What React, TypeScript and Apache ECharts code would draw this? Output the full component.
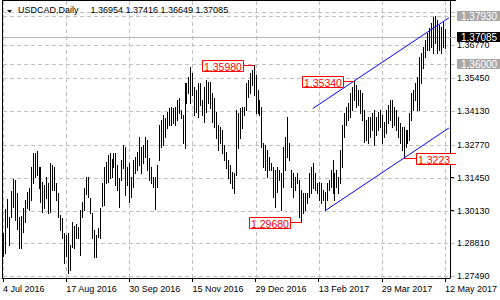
import React, { useEffect, useRef } from "react";
import * as echarts from "echarts";

// ---- chart data -------------------------------------------------------
const symbol = "USDCAD";
const timeframe = "Daily";
const lastBarOHLC = [1.36954, 1.37416, 1.36649, 1.37085];
const startDate = "2016-07-04";
const barCount = 225;
const emptyBars = 2;

const xTickLabels = [
  "4 Jul 2016", "17 Aug 2016", "30 Sep 2016", "15 Nov 2016",
  "29 Dec 2016", "13 Feb 2017", "29 Mar 2017", "12 May 2017",
];
const yTickValues = [1.2749, 1.2881, 1.3013, 1.3145, 1.3277, 1.3413, 1.3545, 1.3677];
const hiddenGridValues = [1.3809];
const yMin = 1.27421;
const yMax = 1.38551;

const highs = [
  1.2923, 1.3019, 1.3060, 1.2987, 1.3092, 1.3140, 1.3136, 1.3084, 1.2987, 1.2991,
  1.3023, 1.3056, 1.3088, 1.3104, 1.3188, 1.3244, 1.3244, 1.3252, 1.3188, 1.3188,
  1.3128, 1.3116, 1.3148, 1.3124, 1.3204, 1.3196, 1.3188, 1.3124, 1.3084, 1.2995,
  1.2983, 1.2923, 1.2915, 1.2923, 1.2875, 1.2967, 1.2951, 1.2959, 1.2947, 1.3015,
  1.3048, 1.3104, 1.3148, 1.3148, 1.3064, 1.3003, 1.2935, 1.2915, 1.2943, 1.3023,
  1.3124, 1.3188, 1.3208, 1.3236, 1.3244, 1.3220, 1.3244, 1.3244, 1.3196, 1.3144,
  1.3216, 1.3277, 1.3269, 1.3188, 1.3204, 1.3148, 1.3216, 1.3228, 1.3248, 1.3309,
  1.3269, 1.3277, 1.3309, 1.3297, 1.3224, 1.3188, 1.3148, 1.3148, 1.3196, 1.3357,
  1.3377, 1.3397, 1.3385, 1.3409, 1.3425, 1.3429, 1.3425, 1.3429, 1.3457, 1.3465,
  1.3417, 1.3397, 1.3526, 1.3526, 1.3550, 1.3590, 1.3566, 1.3510, 1.3497, 1.3526,
  1.3526, 1.3457, 1.3510, 1.3538, 1.3530, 1.3530, 1.3485, 1.3465, 1.3409, 1.3357,
  1.3349, 1.3337, 1.3277, 1.3248, 1.3216, 1.3196, 1.3168, 1.3164, 1.3417, 1.3405,
  1.3425, 1.3429, 1.3429, 1.3526, 1.3538, 1.3566, 1.3578, 1.3598, 1.3558, 1.3497,
  1.3457, 1.3429, 1.3285, 1.3277, 1.3256, 1.3228, 1.3204, 1.3188, 1.3176, 1.3188,
  1.3176, 1.3164, 1.3269, 1.3309, 1.3389, 1.3285, 1.3176, 1.3164, 1.3148, 1.3164,
  1.3136, 1.3096, 1.3084, 1.3084, 1.3084, 1.3164, 1.3188, 1.3204, 1.3164, 1.3124,
  1.3128, 1.3124, 1.3096, 1.3088, 1.3124, 1.3136, 1.3176, 1.3216, 1.3164, 1.3176,
  1.3148, 1.3256, 1.3357, 1.3405, 1.3429, 1.3445, 1.3485, 1.3510, 1.3534, 1.3518,
  1.3497, 1.3497, 1.3485, 1.3417, 1.3377, 1.3389, 1.3389, 1.3405, 1.3417, 1.3389,
  1.3409, 1.3417, 1.3397, 1.3369, 1.3417, 1.3437, 1.3457, 1.3457, 1.3429, 1.3417,
  1.3389, 1.3365, 1.3349, 1.3349, 1.3337, 1.3337, 1.3405, 1.3485, 1.3497, 1.3526,
  1.3550, 1.3630, 1.3646, 1.3670, 1.3698, 1.3727, 1.3747, 1.3767, 1.3791, 1.3793,
  1.3779, 1.3759, 1.3751, 1.3771, 1.37416,
];

const lows = [
  1.2831, 1.2843, 1.2947, 1.2875, 1.2987, 1.3027, 1.2975, 1.2939, 1.2863, 1.2863,
  1.2927, 1.2967, 1.3023, 1.3015, 1.3056, 1.3124, 1.3148, 1.3156, 1.3104, 1.3048,
  1.3007, 1.3023, 1.3064, 1.3003, 1.3007, 1.3096, 1.3096, 1.3056, 1.2987, 1.2935,
  1.2903, 1.2802, 1.2831, 1.2762, 1.2774, 1.2867, 1.2863, 1.2903, 1.2903, 1.2835,
  1.2987, 1.3015, 1.3080, 1.3068, 1.3003, 1.2903, 1.2827, 1.2827, 1.2907, 1.2903,
  1.3031, 1.3035, 1.3124, 1.3128, 1.3144, 1.3148, 1.3188, 1.3116, 1.3096, 1.3027,
  1.3136, 1.3184, 1.3076, 1.3116, 1.3048, 1.3068, 1.3108, 1.3164, 1.3176, 1.3196,
  1.3164, 1.3204, 1.3228, 1.3176, 1.3136, 1.3124, 1.3108, 1.3019, 1.3108, 1.3216,
  1.3269, 1.3277, 1.3309, 1.3345, 1.3357, 1.3357, 1.3365, 1.3357, 1.3377, 1.3405,
  1.3385, 1.3285, 1.3265, 1.3445, 1.3485, 1.3445, 1.3477, 1.3397, 1.3409, 1.3389,
  1.3437, 1.3397, 1.3369, 1.3409, 1.3445, 1.3425, 1.3369, 1.3349, 1.3305, 1.3256,
  1.3285, 1.3244, 1.3216, 1.3184, 1.3144, 1.3124, 1.3104, 1.3084, 1.3156, 1.3265,
  1.3305, 1.3345, 1.3397, 1.3417, 1.3469, 1.3485, 1.3518, 1.3477, 1.3405, 1.3405,
  1.3397, 1.3269, 1.3188, 1.3176, 1.3148, 1.3176, 1.3176, 1.3068, 1.3027, 1.3088,
  1.3136, 1.3015, 1.3108, 1.3176, 1.3228, 1.3216, 1.3108, 1.3068, 1.3096, 1.3124,
  1.2987, 1.2968, 1.3003, 1.3015, 1.3044, 1.3068, 1.3084, 1.3104, 1.3096, 1.3084,
  1.3056, 1.3044, 1.3056, 1.3015, 1.3056, 1.3096, 1.3108, 1.3084, 1.3056, 1.3108,
  1.3084, 1.3124, 1.3188, 1.3309, 1.3357, 1.3377, 1.3389, 1.3417, 1.3457, 1.3429,
  1.3437, 1.3405, 1.3377, 1.3289, 1.3297, 1.3285, 1.3309, 1.3337, 1.3277, 1.3317,
  1.3337, 1.3349, 1.3285, 1.3309, 1.3325, 1.3365, 1.3377, 1.3349, 1.3357, 1.3337,
  1.3309, 1.3285, 1.3256, 1.3223, 1.3269, 1.3285, 1.3297, 1.3377, 1.3417, 1.3457,
  1.3417, 1.3417, 1.3526, 1.3586, 1.3630, 1.3658, 1.3658, 1.3670, 1.3646, 1.3686,
  1.3646, 1.3658, 1.3646, 1.3670, 1.36649,
];

const grayLevels = [1.3793, 1.36];
const closePrice = lastBarOHLC[3];

const peakLabels = [
  { index: 127, value: 1.3598, side: "left" },
  { index: 178, value: 1.3534, side: "left" },
  { index: 151, value: 1.2968, side: "left" },
  { index: 203, value: 1.3223, side: "right" },
];

const upperChannel = [[157, 1.3423], [178, 1.3534]];
const lowerChannel = [[163, 1.3011], [203, 1.3223]];

// ---- helpers -------------------------------------------------------------
const MONTHS = ["Jan", "Feb", "Mar", "Apr", "May", "Jun", "Jul", "Aug", "Sep", "Oct", "Nov", "Dec"];
function buildDates(start: string, n: number): string[] {
  const out: string[] = [];
  const d = new Date(start + "T00:00:00Z");
  while (out.length < n) {
    const wd = d.getUTCDay();
    if (wd !== 0 && wd !== 6) {
      out.push(`${d.getUTCDate()} ${MONTHS[d.getUTCMonth()]} ${d.getUTCFullYear()}`);
    }
    d.setUTCDate(d.getUTCDate() + 1);
  }
  return out;
}
const categories = buildDates(startDate, barCount + emptyBars);
const tickSet = new Set(xTickLabels);
const lastIndex = categories.length - 1;

function extendRay(pts: number[][]): number[][] {
  const [[i0, v0], [i1, v1]] = pts;
  const slope = (v1 - v0) / (i1 - i0);
  return [[i0, v0], [lastIndex, v0 + slope * (lastIndex - i0)]];
}

const FONT = "'Liberation Sans', Arial, sans-serif";

export default function App() {
  const ref = useRef<HTMLDivElement>(null);

  useEffect(() => {
    if (!ref.current) return;
    const chart = echarts.init(ref.current, undefined, { renderer: "svg" });

    const barData = highs.map((h, i) => [i, h, lows[i]]);

    const renderItem = (params: any, api: any) => {
      const i = api.value(0);
      const top = api.coord([i, api.value(1)]);
      const bot = api.coord([i, api.value(2)]);
      const x = Math.round(top[0]) + 0.5;
      return {
        type: "line",
        shape: { x1: x, y1: Math.round(top[1]), x2: x, y2: Math.round(bot[1]) + 1 },
        style: { stroke: "#000000", lineWidth: 1 },
        silent: true,
      };
    };

    const option: any = {
      animation: false,
      backgroundColor: "#ffffff",
      grid: { left: 2, top: 1, width: 454, height: 277, containLabel: false },
      xAxis: {
        type: "category",
        data: categories,
        boundaryGap: true,
        axisLine: { show: true, lineStyle: { color: "#000000", width: 1 } },
        axisTick: {
          show: true,
          alignWithLabel: true,
          interval: (i: number, v: string) => tickSet.has(v),
          length: 4,
          lineStyle: { color: "#000000" },
        },
        axisLabel: {
          show: true,
          interval: (i: number, v: string) => tickSet.has(v),
          align: "left",
          margin: 6,
          fontSize: 9,
          color: "#000000",
          fontFamily: FONT,
        },
        splitLine: { show: false },
      },
      yAxis: {
        type: "value",
        position: "right",
        min: yMin,
        max: yMax,
        axisLine: { show: true, lineStyle: { color: "#000000", width: 1 } },
        axisTick: { show: true, customValues: yTickValues, length: 4, lineStyle: { color: "#000000" } },
        axisLabel: {
          customValues: yTickValues,
          formatter: (v: number) => v.toFixed(5),
          margin: 7,
          fontSize: 9,
          color: "#000000",
          fontFamily: FONT,
        },
        splitLine: { show: false },
      },
      series: [
        {
          type: "custom",
          name: symbol,
          renderItem,
          data: barData,
          encode: { x: 0, y: [1, 2] },
          z: 2,
          silent: true,
        },
        {
          type: "line",
          data: extendRay(upperChannel),
          symbol: "none",
          lineStyle: { color: "#0000ff", width: 1 },
          z: 3,
          silent: true,
        },
        {
          type: "line",
          data: extendRay(lowerChannel),
          symbol: "none",
          lineStyle: { color: "#0000ff", width: 1 },
          z: 3,
          silent: true,
        },
      ],
    };
    chart.setOption(option);

    const px = (i: number, v: number) => chart.convertToPixel({ gridIndex: 0 }, [i, v]) as number[];
    const right = 456;
    const topY = px(0, yMax)[1];
    const bottomY = px(0, yMin)[1];
    const crisp = (n: number) => Math.round(n) + 0.5;

    const els: any[] = [];
    const dash = [4, 3];

    // horizontal grid lines and gray level lines
    [...yTickValues, ...hiddenGridValues, ...grayLevels].forEach((v) => {
      const y = crisp(px(0, v)[1]);
      els.push({
        type: "line", z: 1, silent: true,
        shape: { x1: 3, y1: y, x2: right, y2: y },
        style: { stroke: "#c0c0c0", lineWidth: 1, lineDash: dash },
      });
    });
    // vertical grid lines
    categories.forEach((c, i) => {
      if (!tickSet.has(c)) return;
      const x = crisp(px(i, yMin)[0]);
      els.push({
        type: "line", z: 1, silent: true,
        shape: { x1: x, y1: topY, x2: x, y2: bottomY },
        style: { stroke: "#c0c0c0", lineWidth: 1, lineDash: dash },
      });
    });
    // close price line
    {
      const y = crisp(px(0, closePrice)[1]);
      els.push({
        type: "line", z: 1, silent: true,
        shape: { x1: 3, y1: y, x2: right, y2: y },
        style: { stroke: "#b4b4b4", lineWidth: 1 },
      });
    }
    // frame (left + top)
    els.push({ type: "line", z: 5, silent: true, shape: { x1: 2.5, y1: 0, x2: 2.5, y2: bottomY }, style: { stroke: "#000", lineWidth: 1 } });
    els.push({ type: "line", z: 5, silent: true, shape: { x1: 2, y1: 0.5, x2: right, y2: 0.5 }, style: { stroke: "#000", lineWidth: 1 } });

    // title
    els.push({
      type: "polygon", z: 10, silent: true,
      shape: { points: [[7, 10], [12, 10], [9.5, 12.8]] },
      style: { fill: "#000" },
    });
    els.push({
      type: "text", z: 10, silent: true, x: 18, y: 10,
      style: { text: `${symbol},${timeframe}`, fill: "#000", fontSize: 9, fontFamily: FONT, textVerticalAlign: "middle" },
    });
    els.push({
      type: "text", z: 10, silent: true, x: 90.5, y: 10,
      style: {
        text: lastBarOHLC.map((v) => v.toFixed(5)).join(" "),
        fill: "#000", fontSize: 9, fontFamily: FONT, textVerticalAlign: "middle",
      },
    });

    // axis price boxes
    const boxes = [
      { v: grayLevels[0], bg: "#a8a8a8" },
      { v: closePrice, bg: "#000000" },
      { v: grayLevels[1], bg: "#a8a8a8" },
    ];
    boxes.forEach((b) => {
      const y = px(0, b.v)[1] - 0.5;
      els.push({
        type: "rect", z: 20, silent: true,
        shape: { x: 457, y: Math.round(y - 5), width: 43, height: 10 },
        style: { fill: b.bg },
      });
      els.push({
        type: "text", z: 21, silent: true, x: 461, y: Math.round(y - 5) + 5,
        style: { text: b.v.toFixed(5), fill: "#ffffff", fontSize: 10, fontFamily: FONT, textVerticalAlign: "middle" },
      });
    });

    // red peak labels
    const boxW = 42;
    const boxH = 12;
    peakLabels.forEach((p) => {
      const [bx, byRaw] = px(p.index, p.value);
      const by = crisp(byRaw);
      const barX = Math.round(bx) + 0.5;
      const bLeft = p.side === "left" ? Math.round(bx) - 10 - boxW : Math.round(bx) + 12;
      const bTop = Math.round(by - boxH / 2);
      const clipped = bLeft + boxW > right;
      const bRight = clipped ? right : bLeft + boxW;
      const lineEnd = p.side === "left" ? bLeft + boxW : bLeft;
      els.push({
        type: "line", z: 12, silent: true,
        shape: { x1: barX, y1: by, x2: lineEnd, y2: by },
        style: { stroke: "#ff0000", lineWidth: 1 },
      });
      els.push({
        type: "rect", z: 12, silent: true,
        shape: { x: bLeft, y: bTop, width: bRight - bLeft, height: boxH },
        style: { fill: "#ffffff" },
      });
      const pts = clipped
        ? [[right, bTop + 0.5], [bLeft + 0.5, bTop + 0.5], [bLeft + 0.5, bTop + boxH - 0.5], [right, bTop + boxH - 0.5]]
        : [[bLeft + 0.5, bTop + 0.5], [bLeft + boxW - 0.5, bTop + 0.5], [bLeft + boxW - 0.5, bTop + boxH - 0.5], [bLeft + 0.5, bTop + boxH - 0.5], [bLeft + 0.5, bTop + 0.5]];
      els.push({
        type: "polyline", z: 13, silent: true,
        shape: { points: pts },
        style: { stroke: "#ff0000", lineWidth: 1, fill: null },
      });
      const textStyle: any = {
        text: p.value.toFixed(5), fill: "#ff0000", fontSize: 10.5, fontFamily: FONT, textVerticalAlign: "middle",
      };
      if (clipped) {
        textStyle.width = bRight - (bLeft + 2);
        textStyle.overflow = "truncate";
        textStyle.ellipsis = "";
      }
      els.push({
        type: "text", z: 14, silent: true, x: bLeft + 2, y: bTop + boxH / 2 + 0.5,
        style: textStyle,
      });
    });

    chart.setOption({ graphic: { elements: els } });

    return () => chart.dispose();
  }, []);

  return (
    <div
      ref={ref}
      style={{ position: "fixed", left: 0, top: 0, width: 500, height: 300, background: "#ffffff" }}
    />
  );
}
